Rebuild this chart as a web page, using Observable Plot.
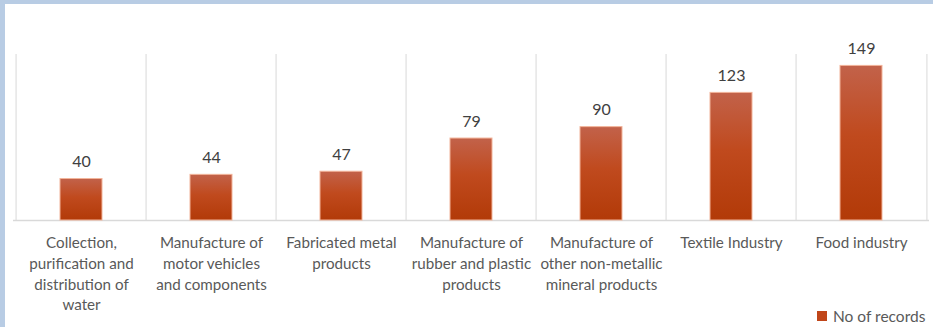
<!DOCTYPE html>
<html>
<head>
<meta charset="utf-8">
<script src="https://cdn.jsdelivr.net/npm/d3@7"></script>
<script src="https://cdn.jsdelivr.net/npm/@observablehq/plot@0.6"></script>
<style>
  html, body { margin: 0; padding: 0; background: #fff; }
  #wrap { position: relative; width: 933px; height: 327px; overflow: hidden; font-family: Lato, "Open Sans", sans-serif; }
  #chart { position: absolute; left: 0; top: 0; }
  #frameTop { position: absolute; left: 0; top: 0; width: 933px; height: 4px; background: #b8cce4; }
  #frameLeft { position: absolute; left: 0; top: 0; width: 5px; height: 327px; background: #b8cce4; }
  #legend { position: absolute; left: 817px; top: 305px; height: 21px; display: flex; align-items: center; font-size: 15.5px; color: #595959; white-space: nowrap; }
  #legend .sw { width: 10px; height: 10px; background: #c0461a; margin-right: 6px; }
  svg { display: block; }
</style>
</head>
<body>
<div id="wrap">
  <div id="chart"></div>
  <div id="legend"><div class="sw"></div><span>No of records</span></div>
  <div id="frameTop"></div>
  <div id="frameLeft"></div>
</div>
<script>
const categories = [
  "Collection, purification and distribution of water",
  "Manufacture of motor vehicles and components",
  "Fabricated metal products",
  "Manufacture of rubber and plastic products",
  "Manufacture of other non-metallic mineral products",
  "Textile Industry",
  "Food industry"
];
const values = [40, 44, 47, 79, 90, 123, 149];
const tickLabels = [
  "Collection,\npurification and\ndistribution of\nwater",
  "Manufacture of\nmotor vehicles\nand components",
  "Fabricated metal\nproducts",
  "Manufacture of\nrubber and plastic\nproducts",
  "Manufacture of\nother non-metallic\nmineral products",
  "Textile Industry",
  "Food industry"
];
const seriesName = "No of records";

const data = categories.map((c, i) => ({category: c, value: values[i]}));
const labelOf = new Map(categories.map((c, i) => [c, tickLabels[i]]));

const W = 933, H = 327, mL = 13, mR = 4, mT = 54, mB = 107;
const step = (W - mL - mR) / categories.length;

const chart = Plot.plot({
  width: W,
  height: H,
  marginLeft: mL,
  marginRight: mR,
  marginTop: mT,
  marginBottom: mB,
  style: {fontFamily: "Lato, 'Open Sans', sans-serif", fontSize: "15px", background: "transparent"},
  x: {type: "band", domain: categories, paddingInner: 0.68, paddingOuter: 0.34},
  y: {domain: [0, 160], axis: null},
  marks: [
    Plot.ruleX(categories, {x: d => d, dx: -step / 2, stroke: "#d9d9d9"}),
    Plot.ruleX([categories[categories.length - 1]], {x: d => d, dx: step / 2, stroke: "#d9d9d9"}),
    Plot.ruleY([0], {stroke: "#d9d9d9", strokeWidth: 1.5}),
    Plot.barY(data, {x: "category", y: "value", fill: "url(#barGrad)", stroke: "#f2b49a", strokeWidth: 1}),
    Plot.text(data, {x: "category", y: "value", text: d => String(d.value), dy: -17, fill: "#404040", fontSize: 16}),
    Plot.axisX({
      tickSize: 0,
      tickPadding: 13,
      lineAnchor: "top",
      lineHeight: 1.36,
      fontSize: 15.2,
      color: "#595959",
      tickFormat: d => labelOf.get(d),
      label: null
    })
  ]
});

const ns = "http://www.w3.org/2000/svg";
const defs = document.createElementNS(ns, "defs");
defs.innerHTML = `<linearGradient id="barGrad" x1="0" y1="0" x2="0" y2="1">
  <stop offset="0%" stop-color="#c2624a"/>
  <stop offset="45%" stop-color="#c04a1e"/>
  <stop offset="100%" stop-color="#b23a08"/>
</linearGradient>`;
chart.insertBefore(defs, chart.firstChild);
document.getElementById("chart").appendChild(chart);
</script>
</body>
</html>
